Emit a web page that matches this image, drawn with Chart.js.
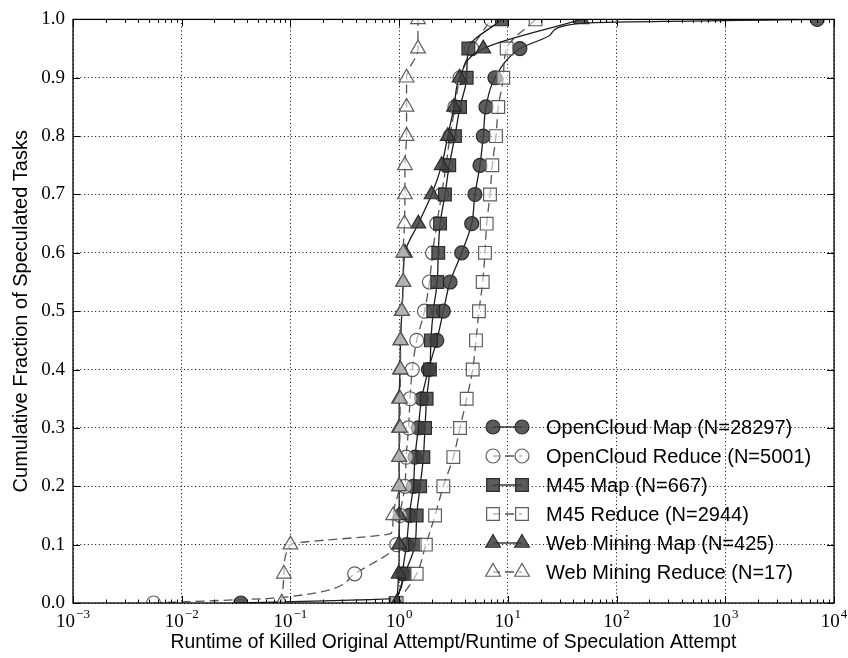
<!DOCTYPE html>
<html>
<head>
<meta charset="utf-8">
<script src="https://cdn.jsdelivr.net/npm/chart.js@4.4.1/dist/chart.umd.min.js"></script>
<style>
  html, body { margin: 0; padding: 0; background: #fff; }
  canvas { display: block; }
</style>
</head>
<body>
<canvas id="cdf" width="848" height="658"></canvas>
<script>
// Cumulative fraction at which each marker is placed
const cdfLevels = [0.00, 0.05, 0.10, 0.15, 0.20, 0.25, 0.30, 0.35, 0.40, 0.45, 0.50,
                   0.55, 0.60, 0.65, 0.70, 0.75, 0.80, 0.85, 0.90, 0.95, 1.00];

// Runtime ratio (killed original / speculation) reached at each level
const openCloudMap    = [0.035, 1.08, 1.17, 1.24, 1.35, 1.40, 1.50, 1.61, 1.86, 2.22, 2.55,
                         2.94, 3.76, 4.65, 4.98, 5.54, 5.94, 6.29, 7.61, 12.9, 7000];
const openCloudReduce = [0.0055, 0.39, 0.95, 1.02, 1.13, 1.16, 1.22, 1.26, 1.32, 1.45, 1.71,
                         1.90, 2.03, 2.22, 2.46, 2.70, 2.94, 3.26, 3.63, 4.65, 7.0];
const m45Map          = [0.93, 1.13, 1.40, 1.45, 1.56, 1.67, 1.73, 1.79, 1.92, 1.96, 2.06,
                         2.24, 2.29, 2.38, 2.64, 2.89, 3.26, 3.63, 4.18, 4.33, 8.8];
const m45Reduce       = [0.95, 1.45, 1.76, 2.14, 2.55, 3.15, 3.63, 4.18, 4.75, 5.09, 5.42,
                         5.87, 6.16, 6.39, 6.85, 7.19, 7.78, 8.16, 9.07, 9.75, 18];
const webMiningMap    = [0.95, 0.99, 1.00, 1.00, 1.00, 1.00, 1.00, 1.00, 1.02, 1.03, 1.06,
                         1.09, 1.13, 1.50, 1.99, 2.46, 2.80, 3.20, 3.60, 5.94, 47.7];
const webMiningReduce = [0.083, 0.087, 0.10, 0.88, 1.00, 1.00, 1.02, 1.02, 1.03, 1.03, 1.06,
                         1.09, 1.09, 1.12, 1.13, 1.13, 1.17, 1.17, 1.17, 1.49, 1.49];

// Unmarked points where the empirical curves bend between markers: [ratio, fraction]
const openCloudMapBends    = [[0.90, 0.008], [25, 0.975], [50, 0.994]];
const openCloudReduceBends = [[0.09, 0.010]];
const webMiningReduceBends = [[0.85, 0.120]];

const seriesLabels = [
  'OpenCloud Map (N=28297)',
  'OpenCloud Reduce (N=5001)',
  'M45 Map (N=667)',
  'M45 Reduce (N=2944)',
  'Web Mining Map (N=425)',
  'Web Mining Reduce (N=17)'
];

const xTickExponents = [-3, -2, -1, 0, 1, 2, 3, 4];
const yTickValues = [0.0, 0.1, 0.2, 0.3, 0.4, 0.5, 0.6, 0.7, 0.8, 0.9, 1.0];

const SANS = '"Liberation Sans", Arial, Helvetica, sans-serif';
const SERIF = '"Liberation Serif", "Times New Roman", serif';

function curve(values, bends) {
  const pts = values.map((x, i) => ({ x: x, y: cdfLevels[i], marked: true }));
  (bends || []).forEach(b => pts.push({ x: b[0], y: b[1], marked: false }));
  return pts.sort((a, b) => a.y - b.y);
}

const FILLED = { bg: 'rgba(64,64,64,0.85)', edge: 'rgba(38,38,38,0.95)' };
const OPEN   = { bg: 'rgba(255,255,255,0.55)', edge: 'rgba(85,85,85,0.95)' };

function series(idx, values, bends, shape, filled, isMap) {
  const look = filled ? FILLED : OPEN;
  const radius = shape === 'rect' ? 9 : (shape === 'triangle' ? 8.5 : 7);
  return {
    label: seriesLabels[idx],
    data: curve(values, bends),
    order: 10 - idx,
    pointStyle: shape,
    markerRadius: radius,
    pointRadius: ctx => (ctx.raw && ctx.raw.marked ? radius : 0),
    pointBackgroundColor: look.bg,
    pointBorderColor: look.edge,
    pointBorderWidth: 1.2,
    borderColor: isMap ? '#1c1c1c' : '#555555',
    borderWidth: 1.3,
    borderDash: isMap ? [] : [9, 5],
    fill: false,
    cubicInterpolationMode: 'monotone',
    clip: 0
  };
}

const datasets = [
  series(0, openCloudMap,    openCloudMapBends,    'circle',   true,  true),
  series(1, openCloudReduce, openCloudReduceBends, 'circle',   false, false),
  series(2, m45Map,          null,                 'rect',     true,  true),
  series(3, m45Reduce,       null,                 'rect',     false, false),
  series(4, webMiningMap,    null,                 'triangle', true,  true),
  series(5, webMiningReduce, webMiningReduceBends, 'triangle', false, false)
];

// Solid frame plus inward major/minor tick marks on all four sides
const frameTicks = {
  id: 'frameTicks',
  afterDatasetsDraw(chart) {
    const { ctx, chartArea: a, scales } = chart;
    const xs = scales.x, ys = scales.y;
    ctx.save();
    ctx.strokeStyle = '#000';
    ctx.lineWidth = 1;
    ctx.beginPath();
    xTickExponents.forEach(e => {
      const px = Math.round(xs.getPixelForValue(Math.pow(10, e))) + 0.5;
      ctx.moveTo(px, a.bottom); ctx.lineTo(px, a.bottom - 7);
      ctx.moveTo(px, a.top); ctx.lineTo(px, a.top + 7);
      if (e < 4) {
        for (let m = 2; m <= 9; m++) {
          const q = Math.round(xs.getPixelForValue(m * Math.pow(10, e))) + 0.5;
          ctx.moveTo(q, a.bottom); ctx.lineTo(q, a.bottom - 3.5);
          ctx.moveTo(q, a.top); ctx.lineTo(q, a.top + 3.5);
        }
      }
    });
    yTickValues.forEach(v => {
      const py = Math.round(ys.getPixelForValue(v)) + 0.5;
      ctx.moveTo(a.left, py); ctx.lineTo(a.left + 7, py);
      ctx.moveTo(a.right, py); ctx.lineTo(a.right - 7, py);
    });
    ctx.stroke();
    ctx.lineWidth = 1.3;
    ctx.strokeRect(a.left, a.top, a.right - a.left, a.bottom - a.top);
    ctx.restore();
  }
};

// Power-of-ten labels under the logarithmic axis
const powerLabels = {
  id: 'powerLabels',
  afterDraw(chart) {
    const { ctx } = chart;
    const xs = chart.scales.x;
    ctx.save();
    ctx.fillStyle = '#000';
    ctx.textAlign = 'left';
    ctx.textBaseline = 'alphabetic';
    xTickExponents.forEach(e => {
      const px = xs.getPixelForValue(Math.pow(10, e));
      const base = '10';
      const sup = e < 0 ? '\u2212' + (-e) : String(e);
      ctx.font = '19px ' + SERIF;
      const wb = ctx.measureText(base).width;
      ctx.font = '13px ' + SERIF;
      const ws = ctx.measureText(sup).width;
      const x0 = px - (wb + ws + 1) / 2;
      ctx.font = '19px ' + SERIF;
      ctx.fillText(base, x0, xs.top + 24);
      ctx.font = '13px ' + SERIF;
      ctx.fillText(sup, x0 + wb + 1, xs.top + 15);
    });
    ctx.restore();
  }
};

// Legend: two markers joined by the series line, then the label
const pairLegend = {
  id: 'pairLegend',
  afterDraw(chart) {
    const { ctx, chartArea: a } = chart;
    const sets = chart.data.datasets;
    const x1 = a.right - 341, x2 = a.right - 312, tx = a.right - 288;
    const rowGap = 29, lastRow = a.bottom - 31;
    sets.forEach((ds, i) => {
      const y = lastRow - (sets.length - 1 - i) * rowGap;
      ctx.save();
      ctx.strokeStyle = ds.borderColor;
      ctx.lineWidth = ds.borderWidth;
      ctx.setLineDash(ds.borderDash);
      ctx.lineDashOffset = ds.borderDash.length ? 2 : 0;
      ctx.beginPath();
      ctx.moveTo(x1, y); ctx.lineTo(x2, y);
      ctx.stroke();
      ctx.setLineDash([]);
      const opts = { pointStyle: ds.pointStyle, radius: ds.markerRadius, rotation: 0, borderWidth: ds.pointBorderWidth };
      ctx.fillStyle = ds.pointBackgroundColor;
      ctx.strokeStyle = ds.pointBorderColor;
      ctx.lineWidth = ds.pointBorderWidth;
      Chart.helpers.drawPoint(ctx, opts, x1, y);
      Chart.helpers.drawPoint(ctx, opts, x2, y);
      ctx.fillStyle = '#000';
      ctx.font = '20px ' + SANS;
      ctx.textAlign = 'left';
      ctx.textBaseline = 'middle';
      ctx.fillText(ds.label, tx, y + 1);
      ctx.restore();
    });
  }
};

new Chart(document.getElementById('cdf'), {
  type: 'line',
  data: { datasets: datasets },
  options: {
    responsive: false,
    animation: false,
    events: [],
    indexAxis: 'y',
    layout: { padding: { top: 14, right: 14, left: 0, bottom: 0 } },
    plugins: { legend: { display: false }, tooltip: { enabled: false } },
    scales: {
      x: {
        type: 'logarithmic',
        position: 'bottom',
        min: 0.001,
        max: 10000,
        afterBuildTicks: s => { s.ticks = xTickExponents.map(e => ({ value: Math.pow(10, e) })); },
        afterFit: s => { s.height = 55; },
        grid: { color: '#000', lineWidth: 1, drawTicks: false },
        border: { display: false, dash: [1, 2.7] },
        ticks: { display: false },
        title: {
          display: true,
          text: 'Runtime of Killed Original Attempt/Runtime of Speculation Attempt',
          color: '#000',
          font: { family: SANS, size: 19.3 },
          padding: { top: 0, bottom: 4 }
        }
      },
      y: {
        type: 'linear',
        position: 'left',
        min: 0,
        max: 1,
        afterBuildTicks: s => { s.ticks = yTickValues.map(v => ({ value: v })); },
        afterFit: s => { s.width = 73; },
        grid: { color: '#000', lineWidth: 1, drawTicks: false },
        border: { display: false, dash: [1, 2.7] },
        ticks: {
          callback: v => Number(v).toFixed(1),
          color: '#000',
          font: { family: SERIF, size: 19 },
          padding: 8
        },
        title: {
          display: true,
          text: 'Cumulative Fraction of Speculated Tasks',
          color: '#000',
          font: { family: SANS, size: 20 },
          padding: { top: 9, bottom: 0 }
        }
      }
    }
  },
  plugins: [frameTicks, powerLabels, pairLegend]
});
</script>
</body>
</html>
